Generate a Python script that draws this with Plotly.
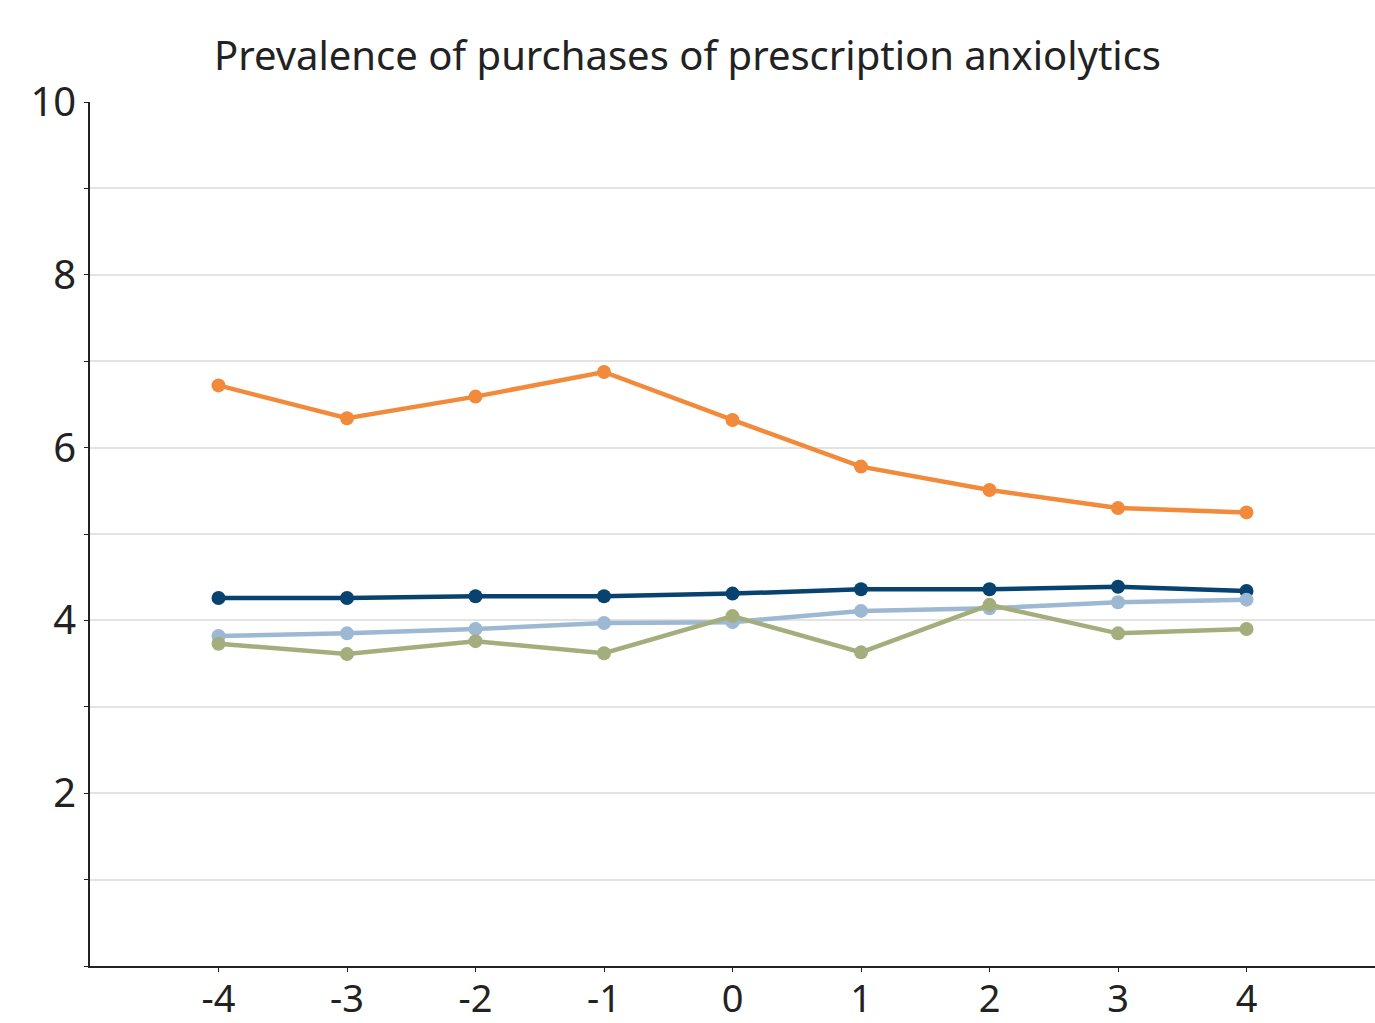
import plotly.graph_objects as go

x_vals = [-4, -3, -2, -1, 0, 1, 2, 3, 4]
dark_blue = [4.26, 4.26, 4.28, 4.28, 4.31, 4.36, 4.36, 4.39, 4.34]
light_blue = [3.82, 3.85, 3.90, 3.97, 3.98, 4.11, 4.14, 4.21, 4.24]
green = [3.73, 3.61, 3.76, 3.62, 4.05, 3.63, 4.18, 3.85, 3.90]
orange = [6.72, 6.34, 6.59, 6.875, 6.32, 5.78, 5.51, 5.30, 5.25]

y_ticks = [2, 4, 6, 8, 10]
x_ticks = [-4, -3, -2, -1, 0, 1, 2, 3, 4]

series = [
    ("Series 1", dark_blue, "#08426E"),
    ("Series 2", light_blue, "#9DB8D2"),
    ("Series 3", green, "#A4AE7C"),
    ("Series 4", orange, "#F28A3B"),
]

fig = go.Figure()
for name, vals, col in series:
    fig.add_trace(go.Scatter(
        x=x_vals, y=vals, mode="lines+markers", name=name,
        line=dict(color=col, width=4.5),
        marker=dict(color=col, size=14),
        cliponaxis=False,
    ))

font_family = "Noto Sans"
fig.update_layout(
    width=1375, height=1023,
    paper_bgcolor="white", plot_bgcolor="white",
    showlegend=False,
    margin=dict(l=90, r=0, t=102, b=57, autoexpand=False),
    title=dict(text="Prevalence of purchases of prescription anxiolytics",
               x=0.5, xanchor="center", y=1 - 56 / 1023, yanchor="middle",
               font=dict(family=font_family, size=40, color="#222222")),
    font=dict(family=font_family, color="#222222"),
)
fig.update_xaxes(
    range=[-5, 5], tickvals=x_ticks, ticktext=[str(v) for v in x_ticks],
    showgrid=False, zeroline=False, automargin=False,
    showline=True, linecolor="#222222", linewidth=1.5,
    ticks="outside", ticklen=4, tickcolor="#222222",
    ticklabelstandoff=-5,
    tickfont=dict(size=38, family=font_family, color="#222222"),
)
fig.update_yaxes(
    range=[0, 10], tickvals=y_ticks, ticktext=[str(v) for v in y_ticks],
    showgrid=True, gridcolor="#E3E3E3", gridwidth=2, zeroline=False, automargin=False,
    showline=True, linecolor="#222222", linewidth=1.5,
    ticks="outside", ticklen=4, tickcolor="#222222",
    tickfont=dict(size=40, family=font_family, color="#222222"),
    minor=dict(dtick=1, tick0=0, showgrid=True, gridcolor="#E3E3E3", gridwidth=2,
               ticks="outside", ticklen=4, tickcolor="#222222"),
)

fig.write_html(
    "out.html",
    config={"displayModeBar": False},
    post_script="document.body.style.margin='0';document.body.style.overflow='hidden';",
)
